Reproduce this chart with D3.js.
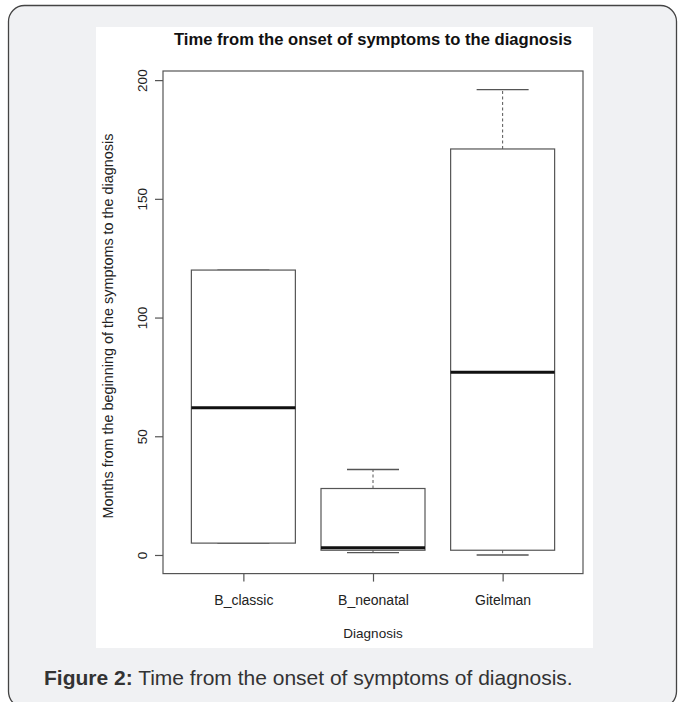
<!DOCTYPE html>
<html>
<head>
<meta charset="utf-8">
<script src="https://cdn.jsdelivr.net/npm/d3@7"></script>
<style>
	body { margin: 0; background: #fff; }
	svg text { font-family: "Liberation Sans", Arial, Helvetica, sans-serif; }
</style>
</head>
<body>
<svg id="chart" width="683" height="702"></svg>
<script>
// values
let categories = ['B_classic', 'B_neonatal', 'Gitelman'],
	whisker_low = [5, 1, 0],
	q1 = [5, 2, 2],
	medians = [62, 3, 77],
	q3 = [120, 28, 171],
	whisker_high = [120, 36, 196];
let y_ticks = [0, 50, 100, 150, 200];

let title = 'Time from the onset of symptoms to the diagnosis',
	x_label = 'Diagnosis',
	y_label = 'Months from the beginning of the symptoms to the diagnosis';

let plot = {left: 163, right: 583, top: 71, bottom: 573.6};
let box_width = 104, cap_width = 52;

let svg = d3.select('#chart');

// outer figure panel
svg.append('rect')
	.attr('x', 8.5).attr('y', 5.5)
	.attr('width', 668).attr('height', 702)
	.attr('rx', 16)
	.attr('fill', '#f0f1f3')
	.attr('stroke', '#444')
	.attr('stroke-width', 1.3);

// white image area
svg.append('rect')
	.attr('x', 96).attr('y', 27)
	.attr('width', 497).attr('height', 621)
	.attr('fill', '#fff');

// R style: 4% extension of the data range
let lo = d3.min(whisker_low), hi = d3.max(whisker_high),
	ext = (hi - lo) * 0.04;
let y = d3.scaleLinear()
	.domain([lo - ext, hi + ext])
	.range([plot.bottom, plot.top]);
let x = d3.scalePoint()
	.domain(categories)
	.range([plot.left, plot.right])
	.padding(0.62);

let g = svg.append('g');

// frame
g.append('rect')
	.attr('x', plot.left).attr('y', plot.top)
	.attr('width', plot.right - plot.left)
	.attr('height', plot.bottom - plot.top)
	.attr('fill', 'none')
	.attr('stroke', '#555')
	.attr('stroke-width', 1.2);

// y axis
let y_axis = g.append('g')
	.attr('transform', `translate(${plot.left}, 0)`)
	.call(d3.axisLeft(y).tickValues(y_ticks).tickSize(8).tickSizeOuter(0));
y_axis.select('.domain').remove();
y_axis.selectAll('line').attr('stroke', '#555').attr('stroke-width', 1.2);
y_axis.selectAll('text')
	.attr('transform', 'rotate(-90)')
	.attr('x', 0).attr('y', -16).attr('dy', 0)
	.attr('text-anchor', 'middle')
	.attr('fill', '#222')
	.style('font-size', '13.5px');

// x axis
let x_axis = g.append('g')
	.attr('transform', `translate(0, ${plot.bottom})`)
	.call(d3.axisBottom(x).tickSize(8).tickSizeOuter(0));
x_axis.select('.domain').remove();
x_axis.selectAll('line').attr('stroke', '#555').attr('stroke-width', 1.2);
x_axis.selectAll('text')
	.attr('y', 31).attr('dy', 0)
	.attr('fill', '#222')
	.style('font-size', '14px');

// boxes
let boxes = g.selectAll('.box')
	.data(categories)
	.enter()
	.append('g')
	.attr('class', 'box');

// whiskers (dashed)
boxes.append('line')
	.attr('x1', d => x(d)).attr('x2', d => x(d))
	.attr('y1', (d, i) => y(q3[i])).attr('y2', (d, i) => y(whisker_high[i]))
	.attr('stroke', '#555').attr('stroke-dasharray', '3,2.5');
boxes.append('line')
	.attr('x1', d => x(d)).attr('x2', d => x(d))
	.attr('y1', (d, i) => y(q1[i])).attr('y2', (d, i) => y(whisker_low[i]))
	.attr('stroke', '#555').attr('stroke-dasharray', '3,2.5');

// staples
[whisker_high, whisker_low].forEach(vals => {
	boxes.append('line')
		.attr('x1', d => x(d) - cap_width / 2).attr('x2', d => x(d) + cap_width / 2)
		.attr('y1', (d, i) => y(vals[i])).attr('y2', (d, i) => y(vals[i]))
		.attr('stroke', '#555').attr('stroke-width', 1.3);
});

boxes.append('rect')
	.attr('x', d => x(d) - box_width / 2)
	.attr('y', (d, i) => y(q3[i]))
	.attr('width', box_width)
	.attr('height', (d, i) => y(q1[i]) - y(q3[i]))
	.attr('fill', '#fff')
	.attr('stroke', '#555')
	.attr('stroke-width', 1.2);

boxes.append('line')
	.attr('x1', d => x(d) - box_width / 2).attr('x2', d => x(d) + box_width / 2)
	.attr('y1', (d, i) => y(medians[i])).attr('y2', (d, i) => y(medians[i]))
	.attr('stroke', '#111')
	.attr('stroke-width', 3);

// titles
svg.append('text')
	.attr('x', (plot.left + plot.right) / 2).attr('y', 45)
	.attr('text-anchor', 'middle')
	.style('font-size', '16.6px').style('font-weight', 'bold')
	.attr('fill', '#111')
	.text(title);

svg.append('text')
	.attr('x', (plot.left + plot.right) / 2).attr('y', 638)
	.attr('text-anchor', 'middle')
	.style('font-size', '13.5px')
	.attr('fill', '#222')
	.text(x_label);

svg.append('text')
	.attr('transform', `translate(113, 326) rotate(-90)`)
	.attr('text-anchor', 'middle')
	.style('font-size', '14.4px')
	.attr('fill', '#222')
	.text(y_label);

// caption
let caption = svg.append('text')
	.attr('x', 44).attr('y', 685)
	.style('font-size', '21px')
	.attr('fill', '#333');
caption.append('tspan').style('font-weight', 'bold').text('Figure 2:');
caption.append('tspan').text(' Time from the onset of symptoms of diagnosis.');
</script>
</body>
</html>
